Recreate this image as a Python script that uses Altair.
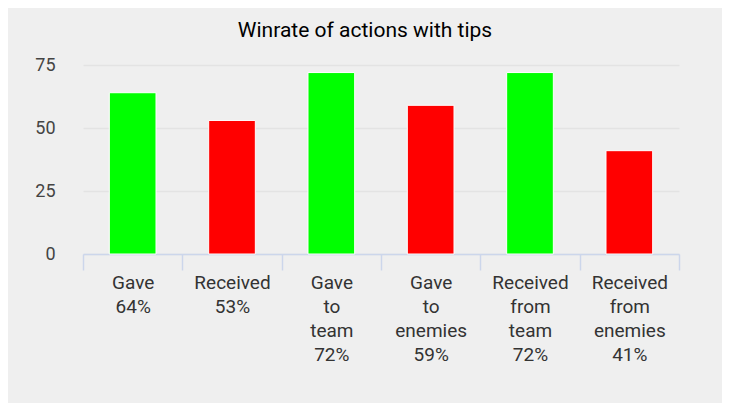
import altair as alt
import pandas as pd

categories = ["Gave|64%", "Received|53%", "Gave|to|team|72%", "Gave|to|enemies|59%",
              "Received|from|team|72%", "Received|from|enemies|41%"]
values = [64, 53, 72, 59, 72, 41]
colors = ["#00ff00", "#ff0000", "#00ff00", "#ff0000", "#00ff00", "#ff0000"]

df = pd.DataFrame({"cat": categories, "value": values, "color": colors})

chart = alt.Chart(df).mark_bar(
    stroke="white", strokeWidth=1, width=alt.RelativeBandSize(0.47)
).encode(
    x=alt.X("cat:N", sort=categories, title=None,
            scale=alt.Scale(paddingInner=0, paddingOuter=0),
            axis=alt.Axis(labelExpr="split(datum.label, '|')", labelAngle=0,
                          tickBand="extent", tickSize=16, tickColor="#ccd6eb",
                          domainColor="#ccd6eb", domainWidth=1.5, tickWidth=1.5,
                          labelFont="Roboto", labelFontSize=19, labelColor="#333333",
                          labelLineHeight=24, labelPadding=3, labelBaseline="top",
                          grid=False)),
    y=alt.Y("value:Q", title=None,
            scale=alt.Scale(domain=[0, 75], nice=False),
            axis=alt.Axis(values=[0, 25, 50, 75], domain=False, ticks=False,
                          gridColor="#e3e3e3", gridWidth=1.5,
                          labelFont="Roboto", labelFontSize=18, labelColor="#444444",
                          labelPadding=28)),
    color=alt.Color("color:N", scale=None),
).properties(
    width=596, height=189,
    title=alt.TitleParams("Winrate of actions with tips", font="Roboto", fontSize=21,
                          fontWeight="normal", color="#000000", offset=15, dx=-16),
    background="#efefef",
    padding={"left": 75, "top": 57, "right": 43, "bottom": 149},
    autosize=alt.AutoSizeParams(type="none"),
).configure_view(stroke=None)

chart.save("out.html", embed_options={"renderer": "svg", "actions": False})
